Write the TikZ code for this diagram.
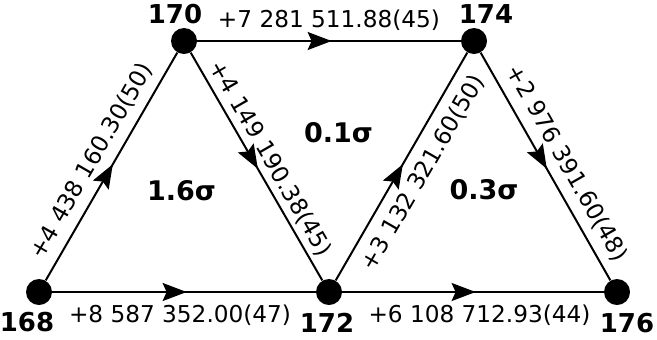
\documentclass[tikz,border=0pt]{standalone}
\usepackage{fontspec}
\setmainfont{DejaVu Sans}
\usetikzlibrary{arrows.meta,positioning,decorations.markings}
\tikzset{site/.style={circle,fill=black,inner sep=0pt,minimum size=13pt},sitename/.style={font=\fontsize{13}{15}\selectfont\bfseries,inner sep=0pt},gapname/.style={font=\fontsize{13.5}{16}\selectfont\bfseries,inner sep=0pt},link/.style={line width=1pt,postaction={decorate},decoration={markings,mark=at position .51 with {\arrow{Stealth[length=12pt,width=9pt,inset=2pt]}}}},shiftname/.style={font=\fontsize{11.6}{14}\selectfont,inner sep=4.3pt}}

\begin{document}
\begin{tikzpicture}[x=0.5pt,y=-0.5pt]
\useasboundingbox (0,0) rectangle (657,339);
\node[site] (n168) at (39,292) {};
\node[site] (n170) at (184,41) {};
\node[site] (n172) at (329,292) {};
\node[site] (n174) at (474,41) {};
\node[site] (n176) at (617,292) {};
\node[sitename,below=3.3pt of n168,xshift=-6pt] (t168) {168};
\node[sitename,above=1.8pt of n170,xshift=-4.5pt] (t170) {170};
\node[sitename,below=3.8pt of n172,xshift=-1pt] (t172) {172};
\node[sitename,above=1.8pt of n174,xshift=6pt] (t174) {174};
\node[sitename,below=3.8pt of n176,xshift=5pt] (t176) {176};
\draw[link] (n168) -- node[shiftname,sloped,above,pos=.48] (w1) {+4 438 160.30(50)} (n170);
\draw[link] (n170) -- node[shiftname,sloped,above,inner sep=2.3pt] (w2) {+4 149 190.38(45)} (n172);
\draw[link] (n172) -- node[shiftname,sloped,below,pos=.52,inner sep=5.3pt] (w3) {+3 132 321.60(50)} (n174);
\draw[link] (n174) -- node[shiftname,sloped,above,pos=.53] (w4) {+2 976 391.60(48)} (n176);
\draw[link] (n170) -- node[shiftname,above,inner sep=4.8pt] (w5) {+7 281 511.88(45)} (n174);
\draw[link] (n168) -- node[shiftname,below,pos=.485,inner sep=5.8pt] (w6) {+8 587 352.00(47)} (n172);
\draw[link] (n172) -- node[shiftname,below,pos=.525,inner sep=5.8pt] (w7) {+6 108 712.93(44)} (n176);
\node[gapname] (g1) at (181.5,190.5) {1.6σ};
\node[gapname] (g2) at (338.5,133) {0.1σ};
\node[gapname] (g3) at (484,190) {0.3σ};
\end{tikzpicture}
\end{document}
